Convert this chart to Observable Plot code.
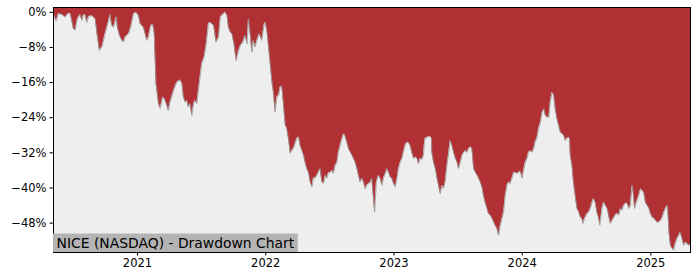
<!DOCTYPE html>
<html>
<head>
<meta charset="utf-8">
<script src="https://cdn.jsdelivr.net/npm/d3@7"></script>
<script src="https://cdn.jsdelivr.net/npm/@observablehq/plot@0.6"></script>
<style>
  html, body { margin: 0; padding: 0; background: #fff; }
  #c { width: 700px; height: 280px; }
</style>
</head>
<body>
<div id="c"></div>
<script>
const title = "NICE (NASDAQ) - Drawdown Chart";
const yTicks = [0, -8, -16, -24, -32, -40, -48];
const xTickLabels = ["2021", "2022", "2023", "2024", "2025"];
const xDomain = ["2020-05-07", "2025-04-24"];
const yDomain = [-54.7, 1.1];

const dates = [
"2020-05-07","2020-05-15","2020-05-21","2020-05-31","2020-06-09","2020-06-19","2020-06-24","2020-07-03","2020-07-08","2020-07-14","2020-07-22","2020-07-27","2020-07-31","2020-08-05","2020-08-10","2020-08-15","2020-08-24","2020-08-29","2020-09-03","2020-09-08","2020-09-15","2020-09-22","2020-10-01","2020-10-11","2020-10-15","2020-10-20","2020-10-25","2020-11-02","2020-11-05","2020-11-11","2020-11-18","2020-11-22","2020-11-27","2020-12-07","2020-12-13","2020-12-21","2020-12-28",
"2021-01-04","2021-01-09","2021-01-18","2021-01-28","2021-02-01","2021-02-08","2021-02-14","2021-02-18","2021-02-23","2021-03-02","2021-03-07","2021-03-14","2021-03-19","2021-03-26","2021-03-30","2021-04-04","2021-04-14","2021-04-23","2021-05-03","2021-05-08","2021-05-12","2021-05-17","2021-05-22","2021-05-26","2021-05-31","2021-06-05","2021-06-10","2021-06-14","2021-06-19","2021-06-27","2021-07-03","2021-07-10","2021-07-16","2021-07-22","2021-07-27","2021-08-06","2021-08-13","2021-08-20","2021-08-25","2021-09-01","2021-09-08","2021-09-13","2021-09-17","2021-09-22","2021-09-27","2021-10-03","2021-10-09","2021-10-16","2021-10-21","2021-10-28","2021-11-04","2021-11-09","2021-11-13","2021-11-18","2021-11-23","2021-11-27","2021-12-02","2021-12-07","2021-12-14","2021-12-21","2021-12-28","2021-12-31",
"2022-01-05","2022-01-09","2022-01-19","2022-01-23","2022-01-28","2022-02-02","2022-02-07","2022-02-11","2022-02-16","2022-02-21","2022-02-26","2022-03-02","2022-03-07","2022-03-12","2022-03-21","2022-03-31","2022-04-05","2022-04-09","2022-04-19","2022-04-24","2022-04-28","2022-05-03","2022-05-08","2022-05-13","2022-05-17","2022-05-22","2022-05-27","2022-06-05","2022-06-10","2022-06-15","2022-06-20","2022-06-24","2022-06-29","2022-07-04","2022-07-09","2022-07-13","2022-07-18","2022-07-23","2022-07-27","2022-08-01","2022-08-09","2022-08-13","2022-08-20","2022-08-25","2022-09-04","2022-09-08","2022-09-13","2022-09-18","2022-09-22","2022-09-27","2022-10-02","2022-10-07","2022-10-11","2022-10-16","2022-10-26","2022-10-30","2022-11-04","2022-11-07","2022-11-12","2022-11-18","2022-11-23","2022-11-28","2022-12-03","2022-12-08","2022-12-12","2022-12-17","2022-12-22","2022-12-26","2022-12-31",
"2023-01-05","2023-01-10","2023-01-14","2023-01-19","2023-01-24","2023-01-28","2023-02-02","2023-02-07","2023-02-12","2023-02-16","2023-02-21","2023-02-26","2023-03-03","2023-03-08","2023-03-12","2023-03-17","2023-03-22","2023-03-26","2023-03-29","2023-03-31","2023-04-05","2023-04-13","2023-04-18","2023-04-19","2023-04-24","2023-04-29","2023-05-04","2023-05-08","2023-05-13","2023-05-18","2023-05-22","2023-05-27","2023-06-01","2023-06-06","2023-06-10","2023-06-15","2023-06-20","2023-06-25","2023-06-30","2023-07-04","2023-07-09","2023-07-14","2023-07-19","2023-07-23","2023-07-28","2023-08-02","2023-08-07","2023-08-11","2023-08-16","2023-08-21","2023-08-26","2023-08-30","2023-09-04","2023-09-09","2023-09-13","2023-09-18","2023-09-23","2023-09-27","2023-10-02","2023-10-07","2023-10-12","2023-10-16","2023-10-21","2023-10-26","2023-10-31","2023-11-05","2023-11-09","2023-11-14","2023-11-19","2023-11-23","2023-11-28","2023-12-03","2023-12-08","2023-12-12","2023-12-17","2023-12-22","2023-12-27",
"2024-01-01","2024-01-05","2024-01-10","2024-01-15","2024-01-19","2024-01-24","2024-01-29","2024-02-03","2024-02-07","2024-02-12","2024-02-17","2024-02-22","2024-02-27","2024-03-03","2024-03-07","2024-03-12","2024-03-17","2024-03-21","2024-03-26","2024-03-31","2024-04-04","2024-04-09","2024-04-14","2024-04-19","2024-04-23","2024-04-28","2024-05-03","2024-05-08","2024-05-13","2024-05-15","2024-05-17","2024-05-22","2024-05-26","2024-05-31","2024-06-05","2024-06-10","2024-06-15","2024-06-19","2024-06-22","2024-06-27","2024-07-04","2024-07-08","2024-07-13","2024-07-18","2024-07-22","2024-07-27","2024-08-01","2024-08-06","2024-08-09","2024-08-12","2024-08-15","2024-08-20","2024-08-25","2024-08-30","2024-09-03","2024-09-08","2024-09-17","2024-09-22","2024-09-27","2024-10-02","2024-10-07","2024-10-11","2024-10-16","2024-10-21","2024-10-26","2024-10-31","2024-11-04","2024-11-09","2024-11-12","2024-11-16","2024-11-21","2024-11-28","2024-12-03","2024-12-08","2024-12-12","2024-12-17","2024-12-22","2024-12-27","2024-12-31",
"2025-01-05","2025-01-10","2025-01-19","2025-01-24","2025-01-29","2025-02-02","2025-02-07","2025-02-12","2025-02-17","2025-02-19","2025-02-22","2025-02-26","2025-03-03","2025-03-07","2025-03-12","2025-03-17","2025-03-22","2025-03-26","2025-03-31","2025-04-05","2025-04-09","2025-04-14","2025-04-19","2025-04-24"
];

const drawdown = [
-0.3,-2.0,-0.3,-0.5,-1.1,-0.2,-0.3,-3.8,-4.0,-1.5,-0.5,-1.9,-0.7,-0.5,-2.3,-1.0,-0.7,-1.1,-1.5,-4.9,-8.7,-7.9,-4.9,-1.9,-0.5,-3.0,-3.4,-1.0,-3.4,-5.3,-6.4,-6.8,-5.7,-4.9,-3.4,-0.3,0.0,
-0.7,-2.6,-3.4,-6.4,-5.7,-3.0,-2.8,-4.9,-16.2,-20.8,-21.9,-19.3,-19.7,-21.2,-22.4,-20.5,-17.8,-15.9,-15.4,-16.3,-19.3,-20.5,-20.1,-21.6,-20.8,-23.5,-20.8,-20.1,-20.8,-15.5,-11.7,-10.2,-7.2,-2.6,-2.3,-3.0,-6.8,-5.7,-1.1,-0.5,0.0,-0.7,-3.4,-4.5,-4.9,-7.2,-11.0,-8.7,-7.6,-6.8,-5.3,-7.2,-1.5,-4.9,-9.1,-6.4,-7.9,-6.4,-4.9,-6.4,-2.6,-2.3,
-4.5,-7.6,-15.9,-18.2,-22.7,-19.3,-18.9,-17.0,-16.9,-21.2,-25.8,-26.4,-28.8,-32.1,-31.0,-28.7,-28.4,-30.3,-32.6,-34.4,-35.6,-36.5,-38.7,-39.8,-37.6,-37.8,-37.1,-35.6,-38.7,-39.0,-37.1,-37.8,-36.5,-36.5,-36.0,-36.7,-34.9,-34.2,-31.9,-30.3,-28.0,-27.7,-29.6,-31.1,-32.6,-33.3,-34.2,-35.6,-37.1,-38.7,-37.8,-38.7,-40.2,-39.4,-38.7,-37.8,-42.4,-45.5,-38.7,-37.1,-37.8,-39.4,-37.6,-36.7,-35.6,-36.5,-37.6,-37.8,-39.0,
-39.8,-37.8,-35.6,-34.2,-33.3,-31.9,-30.3,-29.6,-29.7,-30.3,-31.9,-33.3,-33.0,-33.3,-34.5,-33.3,-33.5,-32.6,-29.6,-28.7,-28.5,-28.2,-28.7,-31.9,-34.2,-35.6,-37.8,-39.4,-41.3,-39.4,-40.1,-38.7,-34.9,-31.9,-29.2,-30.3,-31.9,-33.3,-34.2,-35.6,-34.2,-32.6,-31.9,-31.5,-31.9,-31.0,-30.7,-31.0,-35.6,-36.5,-37.1,-37.8,-38.7,-39.9,-41.7,-43.3,-44.7,-45.8,-46.2,-46.9,-47.8,-48.5,-49.2,-50.8,-48.5,-46.9,-45.6,-41.7,-39.4,-38.7,-39.0,-37.8,-36.5,-36.5,-36.7,-36.5,-36.2,
-37.8,-36.0,-34.2,-33.3,-31.9,-31.5,-31.9,-31.0,-29.6,-28.7,-26.4,-25.1,-22.8,-22.0,-23.5,-23.9,-23.9,-20.5,-18.2,-18.9,-21.9,-24.2,-25.8,-27.4,-27.6,-28.0,-29.2,-28.7,-28.5,-28.7,-32.6,-34.9,-38.7,-41.7,-44.7,-45.5,-46.7,-46.9,-48.1,-46.9,-45.8,-45.6,-44.7,-43.3,-42.4,-43.3,-45.6,-46.9,-48.5,-46.9,-44.7,-43.2,-44.0,-44.7,-46.2,-48.1,-46.9,-46.2,-45.8,-46.2,-44.7,-45.1,-44.0,-43.5,-43.5,-44.7,-44.0,-39.4,-41.0,-44.7,-43.3,-41.7,-40.2,-40.6,-41.0,-43.3,-44.0,-44.7,-45.8,
-46.7,-46.9,-47.8,-47.8,-47.4,-46.9,-45.6,-44.7,-44.0,-45.6,-50.1,-53.1,-53.8,-54.2,-52.6,-51.5,-50.8,-50.1,-51.5,-53.1,-52.4,-52.6,-53.1,-52.8
];

const RED = "#b03033";
const parse = d3.utcParse("%Y-%m-%d");
const data = dates.map((d, i) => ({date: parse(d), dd: drawdown[i]}));
const xTicks = xTickLabels.map(y => parse(y + "-01-01"));
const fmtPct = d => (d < 0 ? "\u2212" : "") + Math.abs(d) + "%";

const chart = Plot.plot({
  width: 700,
  height: 280,
  marginLeft: 53,
  marginRight: 10,
  marginTop: 7,
  marginBottom: 28,
  style: {fontFamily: "'DejaVu Sans', sans-serif", fontSize: "11.5px", color: "#000", background: "#fff"},
  x: {type: "utc", domain: xDomain.map(parse)},
  y: {domain: yDomain},
  marks: [
    Plot.frame({fill: RED, stroke: null}),
    Plot.areaY(data, {x: "date", y1: () => yDomain[0], y2: "dd", fill: "#eeeeee"}),
    Plot.line(data, {x: "date", y: "dd", stroke: "#999999", strokeWidth: 0.8}),
    Plot.frame({stroke: "#000", strokeWidth: 1}),
    Plot.axisY({ticks: yTicks, tickFormat: fmtPct, tickSize: 3.5, tickPadding: 3.5, label: null}),
    Plot.axisX({ticks: xTicks, tickFormat: d3.utcFormat("%Y"), tickSize: 3.5, tickPadding: 3, label: null}),
    Plot.text([title], {frameAnchor: "bottom-left", dx: 3, dy: -5, textAnchor: "start", lineAnchor: "bottom", fontSize: 13.9, fill: "#000", ariaLabel: () => "chart-label"})
  ]
});
document.getElementById("c").append(chart);

// grey background box behind the in-plot label
const t = chart.querySelector('text[aria-label="chart-label"]');
if (t) {
  const sb = chart.getBoundingClientRect();
  const tb = t.getBoundingClientRect();
  const xr = chart.scale("x").range, yr = chart.scale("y").range;
  const left = Math.min(...xr), bottom = Math.max(...yr);
  const top = tb.top - sb.top - 1;
  const right = tb.right - sb.left + 3;
  const rect = document.createElementNS("http://www.w3.org/2000/svg", "rect");
  rect.setAttribute("x", left);
  rect.setAttribute("y", top);
  rect.setAttribute("width", right - left);
  rect.setAttribute("height", bottom - top);
  rect.setAttribute("fill", "#b4b4b4");
  const g = t.parentNode;
  g.parentNode.insertBefore(rect, g);
}
</script>
</body>
</html>
